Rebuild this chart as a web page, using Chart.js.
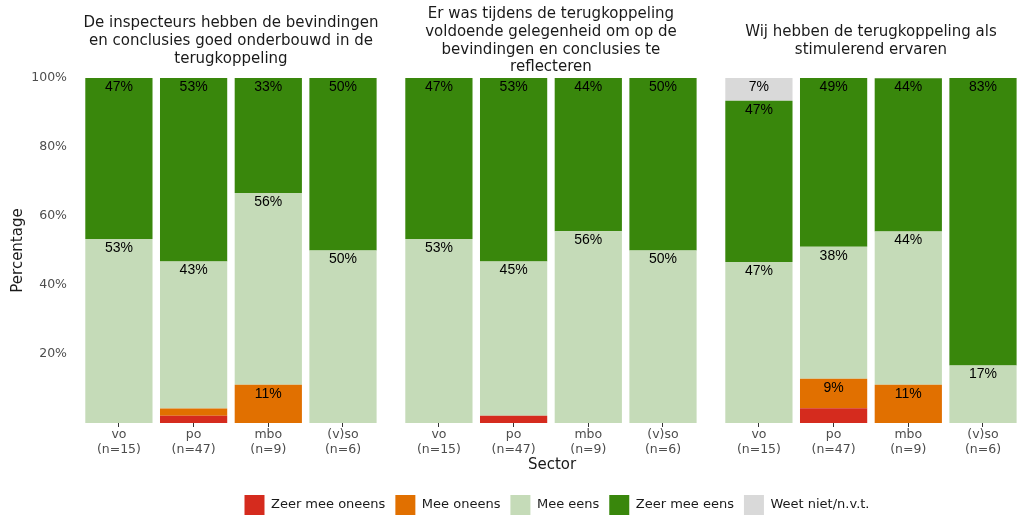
<!DOCTYPE html>
<html>
<head>
<meta charset="utf-8">
<title>Terugkoppeling per sector</title>
<script src="https://cdn.jsdelivr.net/npm/chart.js@4.4.1/dist/chart.umd.min.js"></script>
<style>
  body { margin: 0; background: #ffffff; }
  #wrap { width: 1024px; height: 519px; position: relative; }
</style>
</head>
<body>
<div id="wrap"><canvas id="sectorChart"></canvas></div>
<script>
// categories and answer scale
const sectors = ['vo', 'po', 'mbo', '(v)so'];
const sectorN = ['(n=15)', '(n=47)', '(n=9)', '(n=6)'];
const answers = ['Zeer mee oneens', 'Mee oneens', 'Mee eens', 'Zeer mee eens', 'Weet niet/n.v.t.'];
const answerColors = ['#d52b1e', '#e17000', '#c5dbb8', '#39870c', '#d9d9d9'];

const facetTitles = [
  ['De inspecteurs hebben de bevindingen', 'en conclusies goed onderbouwd in de', 'terugkoppeling'],
  ['Er was tijdens de terugkoppeling', 'voldoende gelegenheid om op de', 'bevindingen en conclusies te', 'reflecteren'],
  ['Wij hebben de terugkoppeling als', 'stimulerend ervaren']
];

// percentages per sector (vo, po, mbo, (v)so)
// question 1: goed onderbouwd
const onderbouwdZeerOneens = [0, 2.1, 0, 0];
const onderbouwdOneens = [0, 2.1, 11.1, 0];
const onderbouwdEens = [53.3, 42.6, 55.6, 50];
const onderbouwdZeerEens = [46.7, 53.2, 33.3, 50];
const onderbouwdWeetNiet = [0, 0, 0, 0];

// question 2: gelegenheid om te reflecteren
const reflecterenZeerOneens = [0, 2.1, 0, 0];
const reflecterenOneens = [0, 0, 0, 0];
const reflecterenEens = [53.3, 44.7, 55.6, 50];
const reflecterenZeerEens = [46.7, 53.2, 44.4, 50];
const reflecterenWeetNiet = [0, 0, 0, 0];

// question 3: stimulerend ervaren
const stimulerendZeerOneens = [0, 4.3, 0, 0];
const stimulerendOneens = [0, 8.5, 11.1, 0];
const stimulerendEens = [46.7, 38.3, 44.4, 16.7];
const stimulerendZeerEens = [46.7, 48.9, 44.4, 83.3];
const stimulerendWeetNiet = [6.7, 0, 0, 0];

const facetSeries = [
  [onderbouwdZeerOneens, onderbouwdOneens, onderbouwdEens, onderbouwdZeerEens, onderbouwdWeetNiet],
  [reflecterenZeerOneens, reflecterenOneens, reflecterenEens, reflecterenZeerEens, reflecterenWeetNiet],
  [stimulerendZeerOneens, stimulerendOneens, stimulerendEens, stimulerendZeerEens, stimulerendWeetNiet]
];

Chart.defaults.font.family = '"DejaVu Sans", Verdana, sans-serif';

// one dataset per answer per facet, each facet on its own x axis
const datasets = [];
facetSeries.forEach(function (series, f) {
  series.forEach(function (values, a) {
    datasets.push({
      label: answers[a],
      data: values.map((v, i) => ({ x: i + 1, y: v })),
      xAxisID: 'x' + (f + 1),
      yAxisID: 'y',
      backgroundColor: answerColors[a],
      borderWidth: 0,
      grouped: false, // no side-by-side grouping, bars only stack
      categoryPercentage: 0.9,
      barPercentage: 1.0
    });
  });
});

function facetAxis(weight, max, title) {
  return {
    type: 'linear',
    position: 'bottom',
    stack: 'sector',
    stackWeight: weight,
    stacked: true,
    offset: false,
    min: 0.372,
    max: max,
    afterBuildTicks: function (axis) {
      axis.ticks = sectors.map((s, i) => ({ value: i + 1 }));
    },
    afterFit: function (axis) { axis.height = 62; },
    grid: { display: true, drawOnChartArea: false, drawTicks: true, tickLength: 4, color: '#333333', offset: false },
    border: { display: false },
    ticks: {
      autoSkip: false,
      maxRotation: 0,
      padding: 1,
      color: '#4d4d4d',
      font: { size: 12.5, lineHeight: 1.15 },
      callback: function (value) { return [sectors[value - 1], sectorN[value - 1]]; }
    },
    title: { display: title !== '', text: title, color: '#1a1a1a', font: { size: 15 }, padding: { top: 0, bottom: 11 } }
  };
}

// percentage labels near the top of each segment
const barLabels = {
  id: 'barLabels',
  afterDatasetsDraw: function (chart) {
    const ctx = chart.ctx;
    ctx.save();
    ctx.font = '14px "Liberation Sans", Arial, sans-serif';
    ctx.fillStyle = '#000000';
    ctx.textAlign = 'center';
    ctx.textBaseline = 'middle';
    chart.data.datasets.forEach(function (ds, di) {
      const meta = chart.getDatasetMeta(di);
      meta.data.forEach(function (bar, i) {
        const v = ds.data[i].y;
        if (v >= 5) ctx.fillText(Math.round(v) + '%', bar.x, bar.y + 9);
      });
    });
    ctx.restore();
  }
};

// facet strip titles above each panel
const facetTitlePlugin = {
  id: 'facetTitles',
  afterDraw: function (chart) {
    const ctx = chart.ctx;
    ctx.save();
    ctx.font = '15px "DejaVu Sans", Verdana, sans-serif';
    ctx.fillStyle = '#1a1a1a';
    ctx.textAlign = 'center';
    ctx.textBaseline = 'middle';
    ['x1', 'x2', 'x3'].forEach(function (id, f) {
      const cx = chart.scales[id].getPixelForValue(2.5);
      const lines = facetTitles[f];
      lines.forEach(function (line, j) {
        ctx.fillText(line, cx, 41 + (j - (lines.length - 1) / 2) * 17.7);
      });
    });
    ctx.restore();
  }
};

// centre the legend under the panels instead of the whole canvas
const legendShift = {
  id: 'legendShift',
  afterLayout: function (chart) {
    chart.legend.left += 45;
    chart.legend.right += 45;
  }
};

const ctx = document.getElementById('sectorChart').getContext('2d');
const sectorChart = new Chart(ctx, {
  type: 'bar',
  data: { datasets: datasets },
  options: {
    responsive: true,
    maintainAspectRatio: false,
    animation: false,
    layout: { padding: { top: 78, bottom: -6, left: 0, right: 0 } },
    plugins: {
      tooltip: { enabled: false },
      legend: {
        position: 'bottom',
        labels: {
          boxWidth: 20,
          boxHeight: 20,
          padding: 10,
          color: '#1a1a1a',
          font: { size: 13 },
          filter: function (item) { return item.datasetIndex < 5; }
        }
      }
    },
    scales: {
      x1: facetAxis(320, 4.656, ''),
      x2: facetAxis(320, 4.656, 'Sector'),
      x3: facetAxis(312, 4.549, ''),
      y: {
        stacked: true,
        min: 0,
        max: 100,
        afterFit: function (axis) { axis.width = 72; },
        grid: { display: false, drawTicks: false },
        border: { display: false },
        ticks: {
          stepSize: 20,
          padding: 5,
          color: '#4d4d4d',
          font: { size: 12.5 },
          callback: function (v) { return v === 0 ? '' : v + '%'; }
        },
        title: { display: true, text: 'Percentage', color: '#1a1a1a', font: { size: 15 }, padding: { top: 9, bottom: 0 } }
      }
    }
  },
  plugins: [barLabels, facetTitlePlugin, legendShift]
});
</script>
</body>
</html>
